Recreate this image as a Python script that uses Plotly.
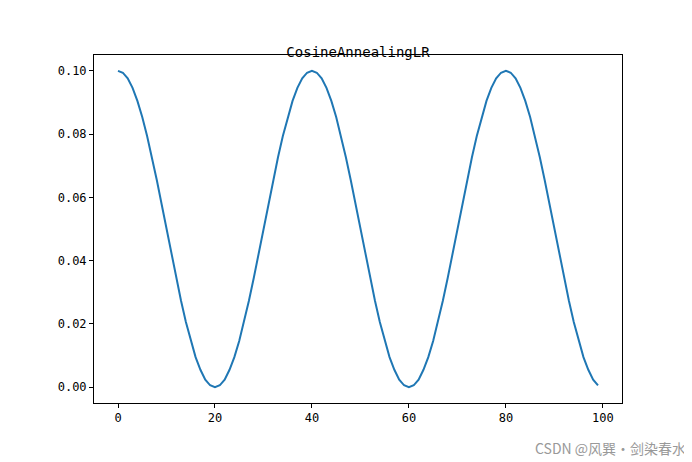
import plotly.graph_objects as go

epochs = list(range(100))
lr = [0.1, 0.0994, 0.0976, 0.0946, 0.0905, 0.0854, 0.0794, 0.0727, 0.0655, 0.0578,
      0.05, 0.0422, 0.0345, 0.0273, 0.0206, 0.0146, 0.0095, 0.0055, 0.0024, 0.0006,
      0.0, 0.0006, 0.0024, 0.0055, 0.0095, 0.0146, 0.0206, 0.0273, 0.0345, 0.0422,
      0.05, 0.0578, 0.0655, 0.0727, 0.0794, 0.0854, 0.0905, 0.0946, 0.0976, 0.0994,
      0.1, 0.0994, 0.0976, 0.0946, 0.0905, 0.0854, 0.0794, 0.0727, 0.0655, 0.0578,
      0.05, 0.0422, 0.0345, 0.0273, 0.0206, 0.0146, 0.0095, 0.0055, 0.0024, 0.0006,
      0.0, 0.0006, 0.0024, 0.0055, 0.0095, 0.0146, 0.0206, 0.0273, 0.0345, 0.0422,
      0.05, 0.0578, 0.0655, 0.0727, 0.0794, 0.0854, 0.0905, 0.0946, 0.0976, 0.0994,
      0.1, 0.0994, 0.0976, 0.0946, 0.0905, 0.0854, 0.0794, 0.0727, 0.0655, 0.0578,
      0.05, 0.0422, 0.0345, 0.0273, 0.0206, 0.0146, 0.0095, 0.0055, 0.0024, 0.0006]
xticks = [0, 20, 40, 60, 80, 100]
yticks = [0.0, 0.02, 0.04, 0.06, 0.08, 0.10]
ytick_labels = ["0.00", "0.02", "0.04", "0.06", "0.08", "0.10"]

font = "DejaVu Sans Mono, Noto Sans CJK SC"
fig = go.Figure(go.Scatter(x=epochs, y=lr, mode="lines",
                           line=dict(color="#1f77b4", width=2)))
ax = dict(showgrid=False, zeroline=False, showline=True, linecolor="black",
          linewidth=1, mirror=True, ticks="outside", ticklen=4,
          tickcolor="black", tickfont=dict(size=12, color="black", family=font))
fig.update_layout(
    width=692, height=462, plot_bgcolor="white", paper_bgcolor="white",
    margin=dict(l=86, r=78, t=47, b=67), showlegend=False,
    title=dict(text="CosineAnnealingLR", x=(86 + 614) / 2 / 692, xanchor="center",
               y=0.915, font=dict(size=14, color="black", family=font)),
    xaxis=dict(range=[-4.95, 103.95], tickvals=xticks, **ax),
    yaxis=dict(range=[-0.005, 0.105], tickvals=yticks, ticktext=ytick_labels, **ax),
    annotations=[dict(text="CSDN @风巽·剑染春水", xref="paper", yref="paper",
                      x=1.125, y=-0.13, xanchor="right", yanchor="middle", showarrow=False,
                      font=dict(size=14, color="#999999", family="Noto Sans CJK SC"))],
)
fig.write_html("out.html")
